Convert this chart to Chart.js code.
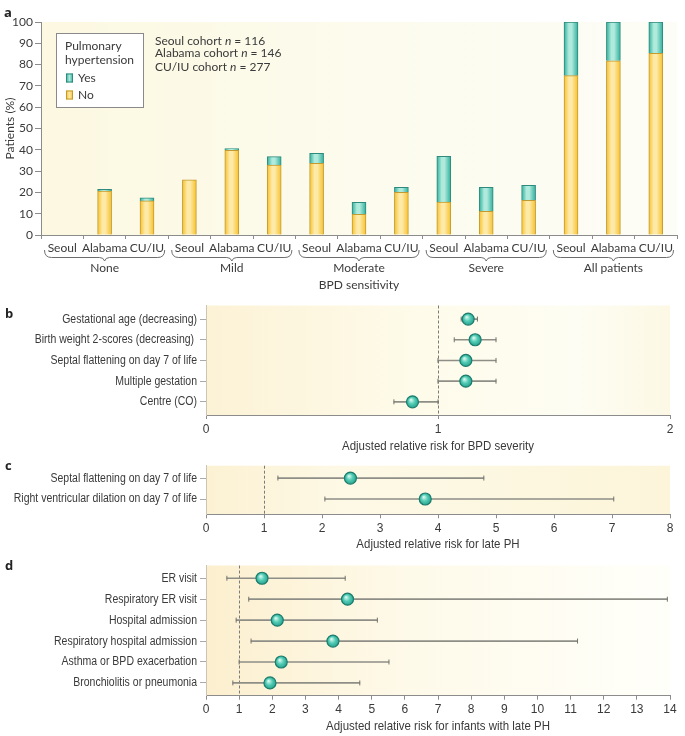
<!DOCTYPE html>
<html><head><meta charset="utf-8">
<script src="https://cdn.jsdelivr.net/npm/chart.js@4"></script>
<style>
html,body{margin:0;padding:0;background:#fff;width:685px;height:736px;overflow:hidden}
canvas{position:absolute;left:0}
</style></head>
<body>
<canvas id="ca" width="685" height="295" style="top:0px"></canvas>
<canvas id="cb" width="685" height="160" style="top:295px"></canvas>
<canvas id="cc" width="685" height="100" style="top:455px"></canvas>
<canvas id="cd" width="685" height="181" style="top:555px"></canvas>
<script>
// ---------- Panel a data ----------
const groups = ['None', 'Mild', 'Moderate', 'Severe', 'All patients'];
const cohorts = ['Seoul', 'Alabama', 'CU/IU'];
const noPH  = [0, 20.6, 16.0, 25.9, 39.8, 32.8, 33.6, 9.7, 20.0, 15.5, 11.1, 16.3, 74.8, 81.8, 85.3];
const yesPH = [null, 0.8, 1.4, null, 0.8, 4.0, 4.7, 5.6, 2.4, 21.4, 11.3, 7.0, 25.2, 18.2, 14.7];
const cohortNotes = [['Seoul cohort ', ' = 116'], ['Alabama cohort ', ' = 146'], ['CU/IU cohort ', ' = 277']];

// ---------- Panel b data ----------
const bLabels = ['Gestational age (decreasing)', 'Birth weight 2-scores (decreasing) ', 'Septal flattening on day 7 of life', 'Multiple gestation', 'Centre (CO)'];
const bRisk = [1.13, 1.16, 1.12, 1.12, 0.89];
const bLow  = [1.10, 1.07, 1.00, 1.00, 0.81];
const bHigh = [1.17, 1.25, 1.25, 1.25, 1.00];

// ---------- Panel c data ----------
const cLabels = ['Septal flattening on day 7 of life', 'Right ventricular dilation on day 7 of life'];
const cRisk = [2.49, 3.78];
const cLow  = [1.24, 2.05];
const cHigh = [4.79, 7.03];

// ---------- Panel d data ----------
const dLabels = ['ER visit', 'Respiratory ER visit', 'Hospital admission', 'Respiratory hospital admission', 'Asthma or BPD exacerbation', 'Bronchiolitis or pneumonia'];
const dRisk = [1.69, 4.27, 2.15, 3.83, 2.27, 1.93];
const dLow  = [0.63, 1.29, 0.91, 1.36, 1.00, 0.81];
const dHigh = [4.20, 13.92, 5.17, 11.21, 5.52, 4.64];

const FA = "Lato, 'Open Sans', sans-serif";
const FF = "'Liberation Sans', Arial, sans-serif";
const TXT = '#3a3a3a';
const AX = '#8c8c8c';

function bgPlugin(stops) {
  return {
    id: 'bg',
    beforeDraw(chart) {
      const a = chart.chartArea, c = chart.ctx;
      const g = c.createLinearGradient(a.left, a.top, a.right, a.top);
      stops.forEach(s => g.addColorStop(s[0], s[1]));
      c.save(); c.fillStyle = g; c.fillRect(a.left, a.top, a.right - a.left, a.bottom - a.top); c.restore();
    }
  };
}

// horizontally condense text drawn by a scale method (narrow-font look)
function condense(scale, method, sx, pivot) {
  const key = '_cond_' + method;
  if (scale[key]) return;
  scale[key] = true;
  const orig = scale[method];
  scale[method] = function (...args) {
    const c = this.ctx, px = pivot(this);
    c.save(); c.translate(px, 0); c.scale(sx, 1); c.translate(-px, 0);
    orig.apply(this, args);
    c.restore();
  };
}

function barGrad(ctx, base, light) {
  const ch = ctx.chart, xs = ch.scales && ch.scales.x;
  if (!xs || ctx.dataIndex == null) return base;
  const cx = xs.getPixelForValue(ctx.dataIndex);
  if (!isFinite(cx)) return base;
  const g = ch.ctx.createLinearGradient(cx - 7, 0, cx + 7, 0);
  g.addColorStop(0, base); g.addColorStop(0.35, light); g.addColorStop(0.55, light); g.addColorStop(1, base);
  return g;
}

// ---------- Panel a ----------
const labelsA = [];
groups.forEach(() => cohorts.forEach(c => labelsA.push(c)));

const annotateA = {
  id: 'annA',
  afterDraw(chart) {
    const c = chart.ctx, xs = chart.scales.x;
    c.save();
    c.fillStyle = '#222'; c.font = "bold 13px 'Open Sans', sans-serif"; c.textBaseline = 'middle'; c.textAlign = 'left';
    c.fillText('a', 4, 13);
    // legend box
    c.fillStyle = '#fff'; c.strokeStyle = '#8a8a8a'; c.lineWidth = 1;
    c.fillRect(56.5, 33.5, 87, 74); c.strokeRect(56.5, 33.5, 87, 74);
    c.fillStyle = TXT; c.font = '12px ' + FA;
    c.fillText('Pulmonary', 65, 46); c.fillText('hypertension', 65, 60);
    const sw = (y, base, light, border) => {
      const g = c.createLinearGradient(66, 0, 73, 0);
      g.addColorStop(0, base); g.addColorStop(0.5, light); g.addColorStop(1, base);
      c.fillStyle = g; c.fillRect(66, y, 7, 9);
      c.strokeStyle = border; c.strokeRect(66.5, y + 0.5, 6, 8);
    };
    sw(73.5, '#2fb09b', '#b0eadd', '#2d8a7c');
    sw(90.5, '#f6c02c', '#fde9a8', '#c49a2c');
    c.fillStyle = TXT;
    c.fillText('Yes', 78, 78); c.fillText('No', 78, 95);
    // cohort notes
    const ys = [40.7, 53.5, 66.7];
    cohortNotes.forEach((n, i) => {
      let x = 155;
      c.font = '12px ' + FA; c.fillText(n[0], x, ys[i]); x += c.measureText(n[0]).width;
      c.font = 'italic 12px ' + FA; c.fillText('n', x, ys[i]); x += c.measureText('n').width;
      c.font = '12px ' + FA; c.fillText(n[1], x, ys[i]);
    });
    // braces and group names
    const step = xs.getPixelForValue(1) - xs.getPixelForValue(0);
    c.strokeStyle = '#6d6d6d'; c.lineWidth = 1;
    c.textAlign = 'center'; c.font = '12px ' + FA; c.fillStyle = TXT;
    groups.forEach((gname, gi) => {
      const cx = xs.getPixelForValue(gi * 3 + 1);
      const half = 1.5 * step - 3.5;
      const x0 = cx - half, x1 = cx + half, yT = 250, yM = 257.5, yP = 261;
      c.beginPath();
      c.moveTo(x0, yT);
      c.quadraticCurveTo(x0, yM, x0 + 7, yM);
      c.lineTo(cx - 5, yM);
      c.quadraticCurveTo(cx - 1, yM, cx, yP);
      c.quadraticCurveTo(cx + 1, yM, cx + 5, yM);
      c.lineTo(x1 - 7, yM);
      c.quadraticCurveTo(x1, yM, x1, yT);
      c.stroke();
      c.fillText(gname, cx, 268);
    });
    c.restore();
  }
};

new Chart(document.getElementById('ca'), {
  type: 'bar',
  data: {
    labels: labelsA,
    datasets: [
      { label: 'No', data: noPH, backgroundColor: ctx => barGrad(ctx, '#f7c12a', '#fde9a8'), borderColor: '#c29a30', borderWidth: 1, barThickness: 14, borderSkipped: 'bottom' },
      { label: 'Yes', data: yesPH, backgroundColor: ctx => barGrad(ctx, '#2fb09b', '#b0eadd'), borderColor: '#2d8a7c', borderWidth: 1, barThickness: 14, borderSkipped: 'bottom' }
    ]
  },
  options: {
    responsive: false, animation: false, events: [],
    layout: { padding: { left: 0, top: 22, right: 8, bottom: 0 } },
    plugins: { legend: { display: false }, tooltip: { enabled: false } },
    scales: {
      x: {
        stacked: true,
        grid: { display: true, drawOnChartArea: false, drawTicks: true, tickLength: 4, color: AX },
        border: { color: AX },
        ticks: { color: TXT, font: { family: FA, size: 12 }, padding: 2, maxRotation: 0, autoSkip: false },
        title: { display: true, text: 'BPD sensitivity', color: TXT, font: { family: FA, size: 12 }, padding: { top: 0, bottom: 3 } },
        afterFit(s) { s.height = 60; }
      },
      y: {
        stacked: true, min: 0, max: 100,
        grid: { display: true, drawOnChartArea: false, drawTicks: true, tickLength: 6, color: AX },
        border: { color: AX },
        ticks: { stepSize: 10, color: TXT, font: { family: FA, size: 12 }, padding: 2 },
        title: { display: true, text: 'Patients (%)', color: TXT, font: { family: FA, size: 12 }, padding: { top: 3, bottom: 0 } },
        afterFit(s) { s.width = 41; }
      }
    }
  },
  plugins: [bgPlugin([[0, '#fcf8e1'], [0.5, '#fcfbed'], [1, '#fdfdf7']]), annotateA]
});

// ---------- forest plots ----------
function dotGrad(ctx) {
  const ch = ctx.chart, xs = ch.scales && ch.scales.x, ys = ch.scales && ch.scales.y, r = ctx.raw;
  if (!r || !xs || !ys) return '#3dbba5';
  const px = xs.getPixelForValue(r.x), py = ys.getPixelForValue(r.y);
  if (!isFinite(px) || !isFinite(py)) return '#3dbba5';
  const g = ch.ctx.createRadialGradient(px - 1.5, py - 2, 0.5, px, py, 6.5);
  g.addColorStop(0, '#d2f6ee'); g.addColorStop(0.45, '#55cdb6'); g.addColorStop(1, '#1f9c88');
  return g;
}

function forest(id, labels, risk, low, high, xmax, ymin, ymax, areaTop, axisH, titleText, titlePad, letter, letterY, stops) {
  const idx = labels.map((_, i) => i);
  const refLine = {
    id: 'ref',
    beforeDatasetsDraw(chart) {
      const c = chart.ctx, a = chart.chartArea, x = Math.round(chart.scales.x.getPixelForValue(1)) + 0.5;
      c.save(); c.strokeStyle = '#7a7a7a'; c.lineWidth = 1; c.setLineDash([3, 2]);
      c.beginPath(); c.moveTo(x, a.top); c.lineTo(x, a.bottom); c.stroke(); c.restore();
    },
    afterDraw(chart) {
      const c = chart.ctx;
      c.save(); c.fillStyle = '#222'; c.font = "bold 13px 'Open Sans', sans-serif"; c.textBaseline = 'middle';
      c.fillText(letter, 5, letterY); c.restore();
    }
  };
  new Chart(document.getElementById(id), {
    type: 'scatter',
    data: {
      datasets: [
        { type: 'bar', indexAxis: 'y', data: idx.map(i => ({ x: [low[i], high[i]], y: i })), backgroundColor: '#8e8e87', borderWidth: 0, barThickness: 1, order: 3 },
        { type: 'scatter', data: idx.flatMap(i => [{ x: low[i], y: i }, { x: high[i], y: i }]), pointStyle: 'line', pointRotation: 90, pointRadius: 2.5, pointBorderColor: '#75756f', pointBorderWidth: 1, order: 2 },
        { type: 'scatter', data: idx.map(i => ({ x: risk[i], y: i })), pointRadius: 6, pointBackgroundColor: dotGrad, pointBorderColor: '#1c7c6d', pointBorderWidth: 1.2, order: 1 }
      ]
    },
    options: {
      responsive: false, animation: false, events: [],
      layout: { padding: { left: 0, top: areaTop, right: 15, bottom: 0 } },
      plugins: { legend: { display: false }, tooltip: { enabled: false } },
      scales: {
        x: {
          type: 'linear', min: 0, max: xmax, offset: false,
          grid: { display: true, drawOnChartArea: false, drawTicks: true, tickLength: 4, color: AX, offset: false },
          border: { color: AX },
          ticks: { stepSize: 1, color: TXT, font: { family: FF, size: 12 }, padding: 3, maxRotation: 0 },
          title: { display: true, text: titleText, color: TXT, font: { family: FF, size: 13.5 }, padding: { top: 0, bottom: titlePad } },
          afterFit(s) {
            s.height = axisH;
            condense(s, 'drawTitle', 0.85, t => (t.left + t.right) / 2);
          }
        },
        y: {
          type: 'linear', reverse: true, min: ymin, max: ymax, offset: false,
          afterBuildTicks(s) { s.ticks = idx.map(v => ({ value: v })); },
          grid: { display: true, drawOnChartArea: false, drawTicks: true, tickLength: 6, color: '#aaa', offset: false },
          border: { color: '#cbc5b3' },
          ticks: { color: TXT, font: { family: FF, size: 12.5 }, padding: 3, callback: v => labels[v] },
          afterFit(s) {
            s.width = 206;
            s._computeLabelArea = () => undefined;
            condense(s, 'drawLabels', 0.84, t => t.right - 9);
          }
        }
      }
    },
    plugins: [bgPlugin(stops), refLine]
  });
}

forest('cb', bLabels, bRisk, bLow, bHigh, 2, -0.655, 4.635, 9.3, 40, 'Adjusted relative risk for BPD severity', 1, 'b', 19,
  [[0, '#fcf2d6'], [0.45, '#fefbea'], [0.8, '#fefdf3'], [1, '#fcf8e4']]);
forest('cc', cLabels, cRisk, cLow, cHigh, 8, -0.59, 1.73, 10.7, 40.7, 'Adjusted relative risk for late PH', 2.5, 'c', 11,
  [[0, '#fcf1d3'], [0.3, '#fdf9e6'], [1, '#fcf5da']]);
forest('cd', dLabels, dRisk, dLow, dHigh, 14, -0.61, 5.61, 8.3, 40.3, 'Adjusted relative risk for infants with late PH', 1.3, 'd', 11,
  [[0, '#fcefcf'], [0.45, '#fefaea'], [1, '#fffffa']]);
</script>
</body></html>
